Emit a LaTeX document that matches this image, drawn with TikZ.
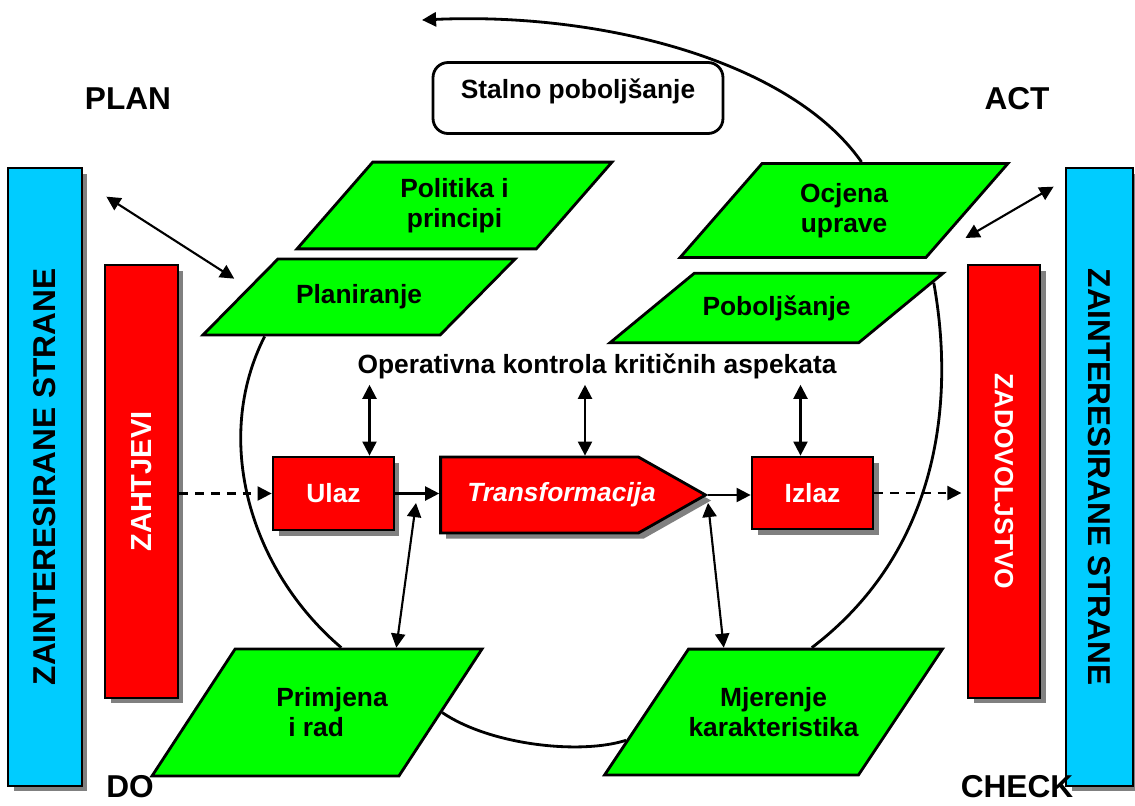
\documentclass[tikz,border=0pt]{standalone}
\usepackage{fontspec,graphicx}
\setmainfont{Liberation Sans}
\usetikzlibrary{shapes.geometric,shapes.symbols,shadows,arrows.meta,calc}

\definecolor{zelena}{HTML}{00FF00}
\definecolor{crvena}{HTML}{FF0000}
\definecolor{plava}{HTML}{00CCFF}

\tikzset{
	txt/.style={font=\fontsize{15}{17}\selectfont\bfseries},
	naslov/.style={font=\fontsize{18}{21}\selectfont\bfseries},
	sjena/.style={drop shadow={shadow xshift=0.11cm, shadow yshift=-0.11cm, fill=black!50, opacity=1}},
	para/.style={txt, draw, line width=1.6pt, fill=zelena, trapezium, trapezium stretches body, align=center, inner xsep=0pt},
	kutija/.style={txt, draw, line width=1.6pt, fill=crvena, text=white, sjena, inner sep=0pt},
	traka/.style={naslov, draw, line width=1.6pt, fill=plava, sjena, inner sep=0pt},
	strelica/.style={line width=1.2pt, -{Triangle[length=8pt, width=8pt]}},
	dvostruka/.style={line width=1.2pt, {Triangle[length=8pt, width=8pt]}-{Triangle[length=8pt, width=8pt]}},
	isprekidana/.style={strelica, dash pattern=on 5pt off 4pt},
	krug/.style={line width=1.6pt},
}

\begin{document}
\begin{tikzpicture}[x=0.02cm, y=-0.02cm]
			\useasboundingbox (0, 0) rectangle (1135, 805);

			\draw (45, 477) 		node[traka, minimum width=1.48cm, minimum height=12.36cm] 	(zis1) 		{\rotatebox{90}{ZAINTERESIRANE STRANE}};
			\draw (1099.5, 477) 	node[traka, minimum width=1.34cm, minimum height=12.36cm] 	(zis2) 		{\rotatebox{-90}{ZAINTERESIRANE STRANE}};
			\draw (141.5, 481.5) 	node[kutija, minimum width=1.46cm, minimum height=8.66cm,
									font=\fontsize{16.5}{19}\selectfont\bfseries] 				(zaht) 		{\rotatebox{90}{ZAHTJEVI}};
			\draw (1004, 481.5) 	node[kutija, minimum width=1.44cm, minimum height=8.66cm] 	(zadov) 	{\rotatebox{-90}{ZADOVOLJSTVO}};

			\draw (333.5, 493.5) 	node[kutija, minimum width=2.42cm, minimum height=1.46cm] 	(ulaz) 		{Ulaz};
			\draw (539.5, 495) 		node[kutija, signal, signal to=east, signal pointer angle=59,
									minimum width=5.30cm, minimum height=1.52cm] 				(transf) 	{\makebox[3.8cm]{\hspace*{0.88cm}\itshape Transformacija}};
			\draw (812.5, 493) 		node[kutija, minimum width=2.42cm, minimum height=1.44cm] 	(izlaz) 	{Izlaz};

			\draw (454.5, 205.5) 	node[para, minimum width=6.30cm, inner ysep=9.2pt,
									trapezium left angle=48.9, trapezium right angle=131.1] 	(pol) 		{Politika i\\principi};
			\draw (359, 297) 		node[para, minimum width=6.24cm, inner ysep=14.6pt,
									trapezium left angle=45.4, trapezium right angle=134.6] 	(plan) 		{Planiranje};
			\draw (844, 210.5) 		node[para, minimum width=6.56cm, inner ysep=11.3pt,
									trapezium left angle=48.9, trapezium right angle=131.1] 	(ocj) 		{Ocjena\\uprave};
			\draw (776.5, 308) 		node[para, minimum width=6.66cm, inner ysep=12.6pt,
									trapezium left angle=39.5, trapezium right angle=140.5] 	(pob) 		{Poboljšanje};
			\draw (317, 712.5) 		node[para, minimum width=6.60cm, inner ysep=22.1pt, align=left,
									trapezium left angle=56.8, trapezium right angle=123.2] 	(prim) 		{\hspace*{0.6cm}Primjena\\\hspace*{0.84cm}i rad};
			\draw (773.5, 712) 		node[para, minimum width=6.62cm, inner ysep=21.8pt,
									trapezium left angle=56.3, trapezium right angle=123.7] 	(mjer) 		{Mjerenje\\karakteristika};

			\draw (578, 98) 		node[txt, draw, line width=1.6pt, rounded corners=0.3cm, minimum width=5.8cm,
									minimum height=1.42cm, text height=5pt, text depth=5pt] 		(stalno) 	{Stalno poboljšanje};
			\draw (597, 366) 		node[txt] 													(ops) 		{Operativna kontrola kritičnih aspekata};

			\draw (128, 109) 		node[naslov, anchor=base] 									(nplan) 	{PLAN};
			\draw (1017, 109) 		node[naslov, anchor=base] 									(nact) 		{ACT};
			\draw (130, 797) 		node[naslov, anchor=base, inner ysep=0pt] 					(ndo) 		{DO};
			\draw (1017, 797) 		node[naslov, anchor=base, inner ysep=0pt] 					(ncheck) 	{CHECK};

			\coordinate (kraj) at (422, 20);
			\coordinate (d1) at (416, 503);
			\coordinate (d2) at (708, 503);
			\coordinate (u1) at ($(ulaz.north)+(36, 0)$);
			\coordinate (t1) at ($(transf.north)+(45.5, 0)$);
			\coordinate (i1) at ($(izlaz.north)+(-12, 0)$);

			\draw[krug] ($(plan.bottom left corner)+(65, 0)$) .. controls (212, 440) and (250, 570) .. ($(prim.top left corner)+(107, 0)$);
			\draw[krug] ($(prim.top right corner)!0.5!(prim.bottom right corner)$) .. controls (490, 745) and (580, 755) .. ($(mjer.top left corner)!0.72!(mjer.bottom left corner)$);
			\draw[krug] ($(mjer.top left corner)+(124, 0)$) .. controls (940, 550) and (955, 400) .. ($(pob.top right corner)!0.15!(pob.bottom right corner)$);
			\draw[krug, -{Triangle[length=8pt, width=8pt]}] ($(ocj.top left corner)+(100, 0)$) .. controls (790, 60) and (600, 12) .. (kraj);

			\draw[isprekidana] (zaht.east |- ulaz.west) -- (ulaz.west);
			\draw[strelica] (ulaz.east) -- (transf.west |- ulaz.east);
			\draw[strelica] (transf.east) -- (izlaz.west |- transf.east);
			\draw[isprekidana, shorten >=3pt] (izlaz.east) -- (zadov.west |- izlaz.east);

			\draw[dvostruka] (u1) -- (u1 |- ops.south);
			\draw[dvostruka] (t1) -- (t1 |- ops.south);
			\draw[dvostruka] (i1) -- (i1 |- ops.south);
			\draw[dvostruka] ($(prim.top left corner)+(162, 0)$) -- (d1);
			\draw[dvostruka] ($(mjer.top left corner)+(36, 0)$) -- (d2);
			\draw[dvostruka] ($(zis1.north east)+(23, 30)$) -- ($(plan.top left corner)+(-43, 21)$);
			\draw[dvostruka] ($(zis2.north west)+(-11, 20)$) -- ($(ocj.bottom right corner)+(39, -21)$);
		\end{tikzpicture}
\end{document}
